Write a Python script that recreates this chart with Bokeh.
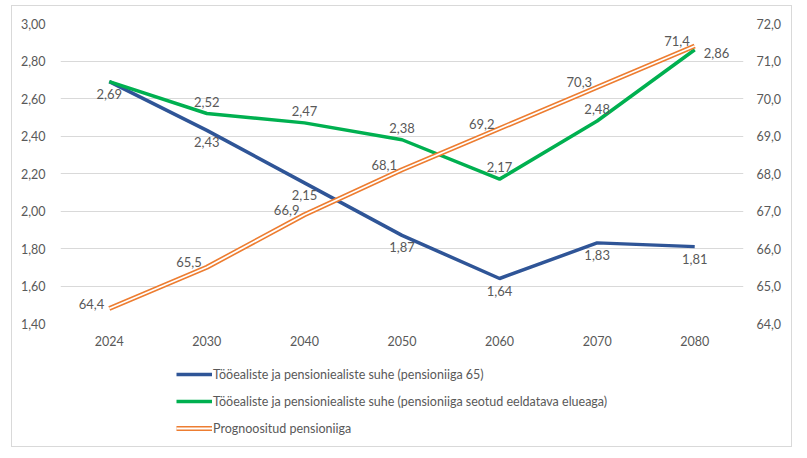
from bokeh.plotting import figure
from bokeh.layouts import column
from bokeh.models import (Range1d, LinearAxis, FixedTicker, CustomJSTickFormatter,
                          Legend, LegendItem, ColumnDataSource)
from bokeh.core.properties import value
from bokeh.embed import file_html
from bokeh.resources import INLINE

years = ["2024", "2030", "2040", "2050", "2060", "2070", "2080"]
ratio_65 = [2.69, 2.43, 2.15, 1.87, 1.64, 1.83, 1.81]
ratio_linked = [2.69, 2.52, 2.47, 2.38, 2.17, 2.48, 2.86]
pension_age = [64.4, 65.5, 66.9, 68.1, 69.2, 70.3, 71.4]
left_ticks = [1.4, 1.6, 1.8, 2.0, 2.2, 2.4, 2.6, 2.8, 3.0]
right_ticks = [64, 65, 66, 67, 68, 69, 70, 71, 72]
labels = ["Tööealiste ja pensioniealiste suhe (pensioniiga 65)",
          "Tööealiste ja pensioniealiste suhe (pensioniiga seotud eeldatava elueaga)",
          "Prognoositud pensioniiga"]

FONT = "Lato"
GRAY = "#595959"
BLUE = "#2F5597"
GREEN = "#00B050"
ORANGE = "#ED7D31"

p = figure(x_range=years, y_range=Range1d(1.4, 3.0), frame_width=683, frame_height=300,
           output_backend="svg", toolbar_location=None,
           min_border_left=48, min_border_right=48, min_border_top=17, min_border_bottom=32)
p.extra_y_ranges = {"right": Range1d(64, 72)}
p.outline_line_color = None

p.xgrid.grid_line_color = None
p.ygrid.grid_line_color = "#d9d9d9"
p.ygrid.ticker = FixedTicker(ticks=left_ticks)

p.yaxis.ticker = FixedTicker(ticks=left_ticks)
p.yaxis.formatter = CustomJSTickFormatter(code="return tick.toFixed(2).replace('.', ',');")
for ax in [p.yaxis[0], p.xaxis[0]]:
    ax.axis_line_color = None
    ax.major_tick_line_color = None
    ax.minor_tick_line_color = None
    ax.major_label_text_color = GRAY
    ax.major_label_text_font = FONT
    ax.major_label_text_font_size = "12.5px"
p.yaxis.major_label_standoff = 9
p.xaxis.major_label_standoff = 6

ry = LinearAxis(y_range_name="right", ticker=FixedTicker(ticks=right_ticks),
                formatter=CustomJSTickFormatter(code="return tick.toFixed(1).replace('.', ',');"))
ry.axis_line_color = None
ry.major_tick_line_color = None
ry.minor_tick_line_color = None
ry.major_label_text_color = GRAY
ry.major_label_text_font = FONT
ry.major_label_text_font_size = "12.5px"
ry.major_label_standoff = 7
p.add_layout(ry, "right")

src = ColumnDataSource(dict(x=years, b=ratio_65, g=ratio_linked, o=pension_age,
                            bl=[f"{v:.2f}".replace(".", ",") for v in ratio_65],
                            gl=[f"{v:.2f}".replace(".", ",") for v in ratio_linked],
                            ol=[f"{v:.1f}".replace(".", ",") for v in pension_age]))

p.line("x", "b", source=src, line_color=BLUE, line_width=3.5)
p.line("x", "g", source=src, line_color=GREEN, line_width=3.5)
p.line("x", "o", source=src, y_range_name="right", line_color=ORANGE, line_width=5)
p.line("x", "o", source=src, y_range_name="right", line_color="white", line_width=1.8)

common = dict(text_font=value(FONT), text_font_size="13px", text_color=GRAY)
p.text("x", "b", text="bl", source=src, text_align="center", text_baseline="top",
       y_offset=7, **common)
gsrc = ColumnDataSource(dict(x=years[1:-1], g=ratio_linked[1:-1],
                             gl=[f"{v:.2f}".replace(".", ",") for v in ratio_linked[1:-1]]))
p.text("x", "g", text="gl", source=gsrc, text_align="center", text_baseline="bottom",
       y_offset=-7, **common)
gsrc2 = ColumnDataSource(dict(x=years[-1:], g=ratio_linked[-1:],
                              gl=[f"{v:.2f}".replace(".", ",") for v in ratio_linked[-1:]]))
p.text("x", "g", text="gl", source=gsrc2, text_align="left", text_baseline="middle",
       x_offset=9, y_offset=3, **common)
p.text("x", "o", text="ol", source=src, y_range_name="right", text_align="right",
       text_baseline="middle", x_offset=-5, y_offset=-5, **common)

# legend strip below the chart
lg = figure(width=779, height=91, x_range=Range1d(0, 1), y_range=Range1d(0, 1),
            output_backend="svg", toolbar_location=None,
            x_axis_location=None, y_axis_location=None,
            min_border=0, min_border_left=0, min_border_right=0,
            min_border_top=0, min_border_bottom=0)
lg.grid.visible = False
lg.outline_line_color = None
off = [-10, -9]
e_b = lg.line(off, off, line_color=BLUE, line_width=3.5)
e_g = lg.line(off, off, line_color=GREEN, line_width=3.5)
e_o1 = lg.line(off, off, line_color=ORANGE, line_width=5)
e_o2 = lg.line(off, off, line_color="white", line_width=1.8)
legend = Legend(items=[LegendItem(label=labels[0], renderers=[e_b]),
                       LegendItem(label=labels[1], renderers=[e_g]),
                       LegendItem(label=labels[2], renderers=[e_o1, e_o2])],
                location=(116, 8), orientation="vertical",
                glyph_width=36, glyph_height=20, label_height=20, label_standoff=1,
                spacing=7, padding=0, margin=0,
                border_line_color=None, background_fill_alpha=0,
                label_text_font=FONT, label_text_font_size="12.5px", label_text_color=GRAY)
lg.add_layout(legend, "center")

layout = column(p, lg, spacing=0,
                styles={"border": "1px solid #d9d9d9", "margin-left": "11px", "margin-top": "5px"})
open("out.html", "w").write(file_html(layout, INLINE))
